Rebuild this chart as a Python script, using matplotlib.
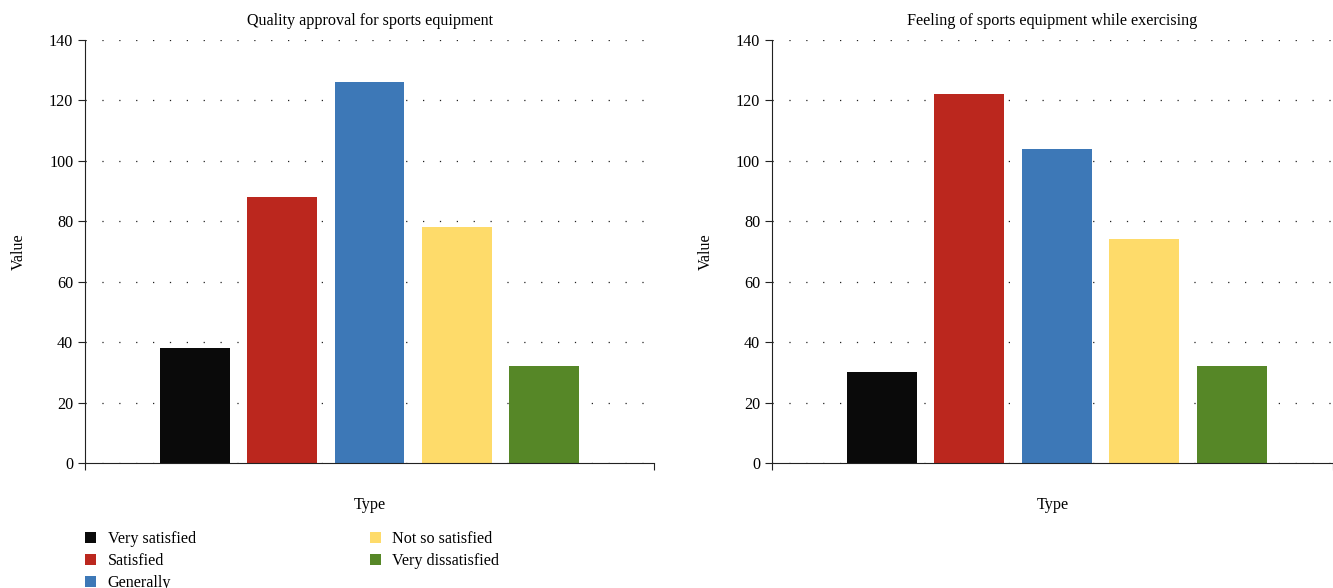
import matplotlib.pyplot as plt
from matplotlib.patches import Patch

plt.rcParams["font.family"] = ["Liberation Serif", "DejaVu Serif"]
fs = 11.6

categories = ["Very satisfied", "Satisfied", "Generally", "Not so satisfied", "Very dissatisfied"]
colors = ["#0a0a0a", "#bb271e", "#3d78b7", "#fedb6a", "#568727"]
quality_values = [38, 88, 126, 78, 32]
feeling_values = [30, 122, 104, 74, 32]
titles = ["Quality approval for sports equipment", "Feeling of sports equipment while exercising"]

fig = plt.figure(figsize=(13.33, 5.88), dpi=100)
ax1 = fig.add_axes([0.0638, 0.2126, 0.4269, 0.7194])
ax2 = fig.add_axes([0.5791, 0.2126, 0.4209, 0.7194])

x = list(range(len(categories)))
for ax, values, title, xmax in [(ax1, quality_values, titles[0], 5.26), (ax2, feeling_values, titles[1], 5.16)]:
    ax.bar(x, values, width=0.8, color=colors, zorder=2)
    ax.set_ylim(0, 140)
    ax.set_xlim(-1.26, xmax)
    ax.set_yticks(range(0, 141, 20))
    ax.set_xticks([-1.26, xmax], ["", ""])
    # sparse dotted grid like the original
    ax.yaxis.grid(True, color="#222222", linestyle=(0, (1, 12.5)), linewidth=0.9, zorder=0)
    for s in ["top", "right"]:
        ax.spines[s].set_visible(False)
    ax.spines["left"].set_color("#222222")
    ax.spines["bottom"].set_color("#222222")
    ax.tick_params(axis="both", direction="out", length=5, color="#222222", labelsize=fs)
    ax.set_title(title, fontsize=fs, pad=11)
    ax.set_xlabel("Type", fontsize=fs, labelpad=16)
    ax.set_ylabel("Value", fontsize=fs, labelpad=16)

handles = [Patch(facecolor=c, label=l) for c, l in zip(colors, categories)]
fig.legend(handles=handles, ncol=2, loc="upper left", bbox_to_anchor=(0.0638, 0.097),
           frameon=False, handlelength=0.7, handleheight=0.7, handletextpad=0.7,
           labelspacing=0.38, columnspacing=10.8, borderpad=0, borderaxespad=0, fontsize=fs)

fig.savefig("out.png", dpi=100)
